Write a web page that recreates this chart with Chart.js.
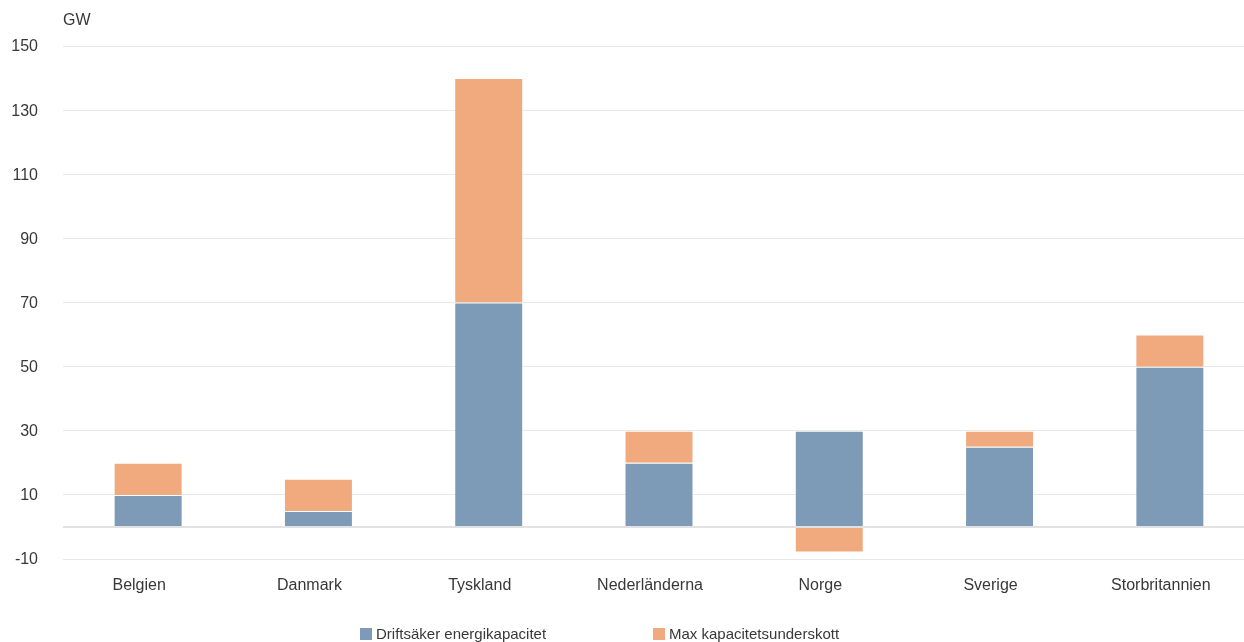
<!DOCTYPE html>
<html lang="sv">
<head>
<meta charset="utf-8">
<title>Driftsäker energikapacitet och max kapacitetsunderskott</title>
<script src="https://cdn.jsdelivr.net/npm/chart.js@4/dist/chart.umd.min.js"></script>
<style>
  html, body { margin: 0; padding: 0; background: #fff; overflow: hidden; }
  body { width: 1244px; height: 642px; position: relative; font-family: "Liberation Sans", Arial, sans-serif; }
  #wrap { position: absolute; left: 0; top: 0; width: 1255px; height: 642px; }
  #legend { position: absolute; top: 625px; left: 0; width: 1244px; height: 24px; font-size: 15px; color: #383838; }
  .item { position: absolute; top: 0; white-space: nowrap; line-height: 18px; }
  .sw { display: inline-block; width: 12px; height: 12px; vertical-align: -1px; margin-right: 4px; }
</style>
</head>
<body>
<div id="wrap"><canvas id="c"></canvas></div>
<div id="legend"></div>
<script>
// Länder
const categories = ['Belgien', 'Danmark', 'Tyskland', 'Nederländerna', 'Norge', 'Sverige', 'Storbritannien'];
// GW
const driftsaker = [10, 5, 70, 20, 30, 25, 50];
const underskott = [10, 10, 70, 10, -8, 5, 10];
const seriesNames = ['Driftsäker energikapacitet', 'Max kapacitetsunderskott'];
const seriesColors = ['#7d9bb6', '#f0aa7e'];
const yTicks = [-10, 10, 30, 50, 70, 90, 110, 130, 150];
const unitLabel = 'GW';

const FONT = '"Liberation Sans", Arial, sans-serif';
const TEXT = '#383838';

const unitPlugin = {
  id: 'unitLabel',
  afterDraw(chart) {
    const ctx = chart.ctx;
    ctx.save();
    ctx.font = '16px ' + FONT;
    ctx.fillStyle = TEXT;
    ctx.textBaseline = 'middle';
    ctx.textAlign = 'left';
    ctx.fillText(unitLabel, chart.chartArea.left, 21);
    ctx.restore();
  }
};

new Chart(document.getElementById('c'), {
  type: 'bar',
  data: {
    labels: categories,
    datasets: [
      { label: seriesNames[0], data: driftsaker, backgroundColor: seriesColors[0],
        borderColor: 'rgba(255,255,255,0.35)', borderWidth: 1 },
      { label: seriesNames[1], data: underskott, backgroundColor: seriesColors[1],
        borderColor: 'rgba(255,255,255,0.35)', borderWidth: 1 }
    ]
  },
  options: {
    responsive: true,
    maintainAspectRatio: false,
    animation: false,
    layout: { padding: { top: 46, bottom: 43, left: 0, right: 0 } },
    datasets: { bar: { barPercentage: 0.405, categoryPercentage: 1 } },
    plugins: { legend: { display: false }, tooltip: { enabled: false } },
    scales: {
      x: {
        stacked: true,
        z: 1,
        grid: { display: false, drawTicks: false },
        border: { display: false },
        ticks: { color: TEXT, font: { size: 16, family: FONT }, padding: 17, maxRotation: 0, labelOffset: -9 },
        afterFit(scale) { scale.height = 40; }
      },
      y: {
        stacked: true,
        z: 1,
        min: yTicks[0],
        max: yTicks[yTicks.length - 1],
        afterBuildTicks(scale) {
          const vals = yTicks.concat([0]).sort((a, b) => a - b);
          scale.ticks = vals.map(v => ({ value: v }));
        },
        afterFit(scale) { scale.width = 63; },
        grid: {
          drawTicks: false,
          color: ctx => (ctx.tick && ctx.tick.value === 0) ? '#e2e2e2' : 'rgba(0,0,0,0.09)',
          lineWidth: ctx => (ctx.tick && ctx.tick.value === 0) ? 2 : 1
        },
        border: { display: false },
        ticks: {
          color: TEXT,
          font: { size: 16, family: FONT },
          padding: 25,
          labelOffset: 1,
          callback: v => (v === 0 ? '' : v)
        }
      }
    }
  },
  plugins: [unitPlugin]
});

// Förklaring
const legend = document.getElementById('legend');
const legendX = [360, 653];
seriesNames.forEach((name, i) => {
  const it = document.createElement('div');
  it.className = 'item';
  it.style.left = legendX[i] + 'px';
  const sw = document.createElement('span');
  sw.className = 'sw';
  sw.style.background = seriesColors[i];
  it.appendChild(sw);
  it.appendChild(document.createTextNode(name));
  legend.appendChild(it);
});
</script>
</body>
</html>
